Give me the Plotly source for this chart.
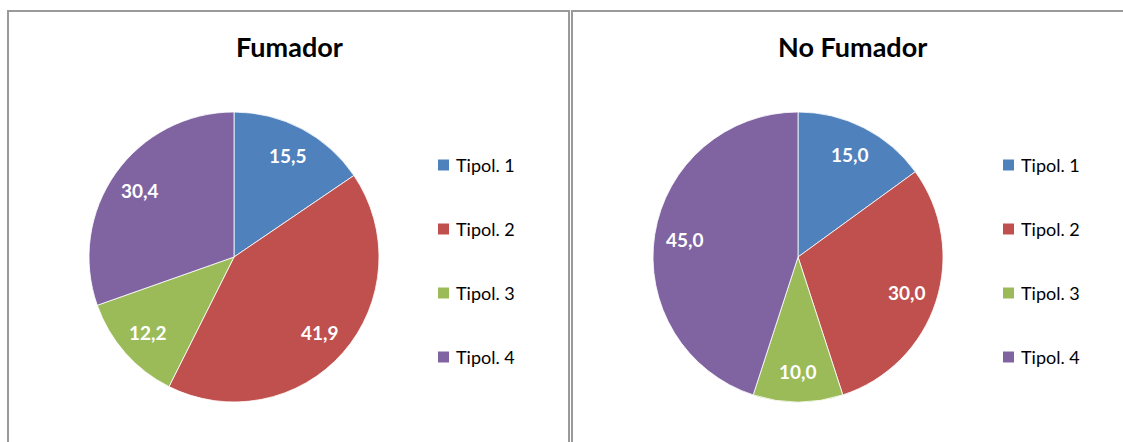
import math
import plotly.graph_objects as go

# Data
categories = ["Tipol. 1", "Tipol. 2", "Tipol. 3", "Tipol. 4"]
fumador = [15.5, 41.9, 12.2, 30.4]
no_fumador = [15.0, 30.0, 10.0, 45.0]
titles = ["Fumador", "No Fumador"]
colors = ["#4F81BD", "#C0504D", "#9BBB59", "#8064A2"]

W, H = 1123, 442
FONT = "Lato, Carlito, Calibri, sans-serif"
LABEL_RADIUS = 0.79  # fraction of the pie radius where value labels sit


def px_x(v):
    return v / W


def px_y(v):
    return 1 - v / H


# Per-panel layout in pixels: pie centre, radius, title centre, legend left
panels = [
    dict(values=fumador, cx=234, cy=257, r=145, tx=289, lx=438,
         box=(8, 11, 569, 460)),
    dict(values=no_fumador, cx=798, cy=257, r=145, tx=852, lx=1003,
         box=(572, 11, 1140, 460)),
]

fig = go.Figure()
shapes = []
annotations = []

for i, p in enumerate(panels):
    vals = p["values"]
    fig.add_trace(go.Pie(
        labels=categories,
        values=vals,
        sort=False,
        direction="clockwise",
        rotation=0,
        marker=dict(colors=colors, line=dict(color="white", width=0.8)),
        textinfo="none",
        showlegend=False,
        hoverinfo="label+value",
        domain=dict(
            x=[px_x(p["cx"] - p["r"]), px_x(p["cx"] + p["r"])],
            y=[px_y(p["cy"] + p["r"]), px_y(p["cy"] - p["r"])],
        ),
    ))

    # value labels along each slice's mid-angle (clockwise from 12 o'clock)
    total = sum(vals)
    cum = 0.0
    for v in vals:
        mid = (cum + v / 2) / total * 2 * math.pi
        cum += v
        d = LABEL_RADIUS * p["r"]
        lx = p["cx"] + d * math.sin(mid)
        ly = p["cy"] - d * math.cos(mid)
        annotations.append(dict(text=f"<b>{v:.1f}</b>".replace(".", ","),
                                xref="paper", yref="paper",
                                x=px_x(lx), y=px_y(ly), showarrow=False,
                                xanchor="center", yanchor="middle",
                                font=dict(family=FONT, size=19, color="white")))

    # panel frame
    x0, y0, x1, y1 = p["box"]
    shapes.append(dict(type="rect", xref="paper", yref="paper",
                       x0=px_x(x0), x1=px_x(x1), y0=px_y(y1), y1=px_y(y0),
                       line=dict(color="#9a9a9a", width=2), layer="below"))

    # title
    annotations.append(dict(text=f"<b>{titles[i]}</b>", xref="paper", yref="paper",
                            x=px_x(p["tx"]), y=px_y(47), showarrow=False,
                            xanchor="center", yanchor="middle",
                            font=dict(family=FONT, size=27, color="black")))

    # legend: colour square + label
    for k, (lab, col) in enumerate(zip(categories, colors)):
        yc = 165 + 64 * k
        shapes.append(dict(type="rect", xref="paper", yref="paper",
                           x0=px_x(p["lx"]), x1=px_x(p["lx"] + 11),
                           y0=px_y(yc + 5.5), y1=px_y(yc - 5.5),
                           fillcolor=col, line=dict(width=0)))
        annotations.append(dict(text=lab, xref="paper", yref="paper",
                                x=px_x(p["lx"] + 16), y=px_y(yc), showarrow=False,
                                xanchor="left", yanchor="middle",
                                font=dict(family=FONT, size=18, color="black")))

fig.update_layout(
    width=W, height=H,
    margin=dict(l=0, r=0, t=0, b=0),
    paper_bgcolor="white",
    plot_bgcolor="white",
    shapes=shapes,
    annotations=annotations,
)

fig.write_html("out.html")
